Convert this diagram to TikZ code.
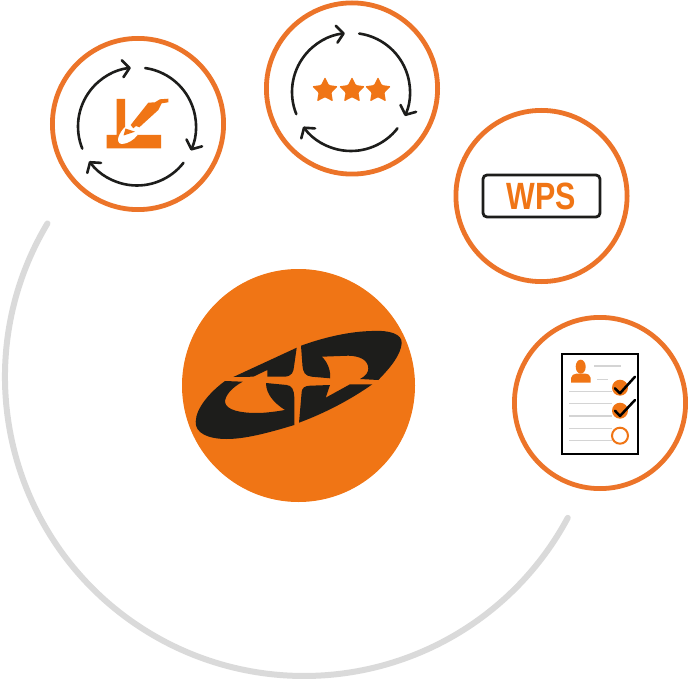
\documentclass[tikz,border=0pt]{standalone}
\usepackage{fontspec}
\setmainfont{Liberation Sans}
\usetikzlibrary{arrows.meta,shapes.geometric}
\definecolor{ringorange}{HTML}{EC7429}
\definecolor{logoorange}{HTML}{F07515}
\definecolor{logoblack}{HTML}{1D1D1B}
\definecolor{sweepgrey}{HTML}{DADADA}
\definecolor{rulegrey}{HTML}{D4D4D4}
\tikzset{
  ring/.style = {draw=ringorange, line width=4.8pt, circle, fill=white, outer sep=0pt, inner sep=0pt, minimum size=171.2pt},
  cyc/.style = {draw=logoblack, line width=2.6pt, line cap=round, -{Straight Barb[length=7pt,width=17pt,round]}},
  iconfill/.style = {fill=logoorange},
  logopart/.style = {fill=logoblack},
  docline/.style = {draw=rulegrey, line width=1.5pt},
  tick/.style = {draw=black, line width=2.5pt, line cap=round, line join=round},
  cycle/.pic = {
    \foreach \a in {158,278,38}
      \draw[cyc] (\a:59) arc (\a:\a+106:59);
  }
}
\begin{document}
\begin{tikzpicture}[x=1pt, y=-1pt]
\useasboundingbox (0,0) rectangle (688,679);
% grey sweep
\coordinate (sweep) at (304,377);
\draw[sweepgrey, line width=6pt, line cap=round] ([shift={(210.9:299)}]sweep) arc (210.9:28.1:299);
% rings
\node[ring] (weld) at (138,124) {};
\node[ring] (rate) at (352,88.5) {};
\node[ring] (wps) at (541.5,196) {};
\node[ring] (doc) at (600,403) {};
\node[circle, fill=logoorange, inner sep=0pt, outer sep=0pt, minimum size=233pt] (hub) at (298.5,385.5) {};
% logo
\fill[logopart] (296.7,347.7) -- (233.3,377) -- (253.3,376.7) -- (267.3,370) -- (267.3,376.7) -- (285,376.7)
  .. controls (292,376) and (293.5,372) .. (294,366.7) -- cycle;
\fill[logopart] (225,381) -- (242.7,381.7) .. controls (231,388) and (225,396) .. (225,402)
  .. controls (226,410) and (240,413) .. (256.7,413) .. controls (266,413) and (276,411.5) .. (285,410)
  .. controls (274,403) and (266,394) .. (266,383) -- (286.7,385)
  .. controls (292,385.5) and (294,390) .. (294.3,397) -- (294.3,425)
  .. controls (268,433) and (245,439) .. (226.7,439) .. controls (208,439) and (195,433) .. (195.7,421.7)
  .. controls (196,408) and (210,392) .. (225,381) -- cycle;
\fill[logopart] (301,345.7) .. controls (325,337) and (350,331.5) .. (371.7,331)
  .. controls (390,330) and (402,334) .. (401.7,343) .. controls (401,355) and (390,368) .. (378.3,380)
  -- (360,379) .. controls (366,376) and (368.5,372) .. (368.3,368.3)
  .. controls (368,360) and (360,356) .. (348.3,355.7) -- (321.7,356.7)
  .. controls (328,362) and (331,372) .. (330,378.3) -- (311.7,376.7)
  .. controls (305,376) and (303,372) .. (302.5,366) -- cycle;
\fill[logopart] (299,422.7) -- (301.7,391.7) .. controls (302,388) and (305,385.7) .. (310,385.7)
  -- (330,385) -- (325.7,397.7) -- (350,384.3) -- (372.3,384.3)
  .. controls (350,400) and (325,413) .. (299,422.7) -- cycle;
% welding icon
\pic (weldcyc) at (137,126.5) {cycle};
\fill[iconfill] (106.7,135) -- (116.5,135) -- (116.5,99) -- (125,99) -- (125,135) -- (161,135) -- (161,148.5) -- (106.7,148.5) -- cycle;
\fill[white] (125,127) .. controls (130,129) and (135,132) .. (137.5,135)
  .. controls (134,140) and (127,144) .. (122,144) .. controls (118,144) and (117.5,140) .. (118.5,137) .. controls (120,133) and (122,130) .. (125,127) -- cycle;
\fill[iconfill] (125.5,128.5) -- (135,131.7) -- (123.5,135.5) -- cycle;
\fill[iconfill] (130.7,125) -- (135,119.5) -- (148.3,102.7) -- (155,102.3) -- (160,99.3) -- (168.3,98.7) -- (168.3,102.3)
  -- (161.7,103.3) -- (158.3,110) -- (139.3,127.3) -- (136,126) -- (133.3,128.3) -- cycle;
% stars icon
\pic (ratecyc) at (351,92) {cycle};
\foreach \sx [count=\i] in {325,352,378}
  \node[star, star points=5, star point ratio=2, fill=logoorange, rounded corners=1pt, inner sep=0pt, outer sep=0pt, minimum size=27pt] (star\i) at (\sx,90.5) {};
% wps icon
\node[draw=logoblack, line width=2.8pt, rounded corners=4pt, inner sep=0pt, outer sep=0pt, minimum width=117pt, minimum height=42pt] (wpsbox) at (541.5,196) {};
\node[text=logoorange, font=\fontsize{38}{38}\selectfont\bfseries, xscale=0.8, inner sep=0pt] (wpstext) at (wpsbox.center) {WPS};
% checklist icon
\node[draw=black, line width=2pt, fill=white, outer sep=0pt, inner sep=0pt, minimum width=76pt, minimum height=100pt] (sheet) at (600,404) {};
\fill[iconfill] (580.7,366.7) ellipse (5pt and 7pt);
\fill[iconfill] (571,382.7) -- (571,378) .. controls (571,375) and (574,374) .. (577,373.5) -- (584.5,373.5) .. controls (588,374) and (590.7,375) .. (590.7,378) -- (590.7,382.7) -- cycle;
\draw[docline] (594,366) -- (620.7,366);
\draw[docline] (597.3,379.3) -- (608.3,379.3);
\foreach \ly in {391.7,403.3,416,428.3,440.7}
  \draw[docline] (569.3,\ly) -- (611.7,\ly);
\node[circle, fill=logoorange, minimum size=16pt, inner sep=0pt] (box1) at (620,387.7) {};
\node[circle, fill=logoorange, minimum size=16pt, inner sep=0pt] (box2) at (620,410.7) {};
\node[circle, draw=logoorange, fill=white, line width=2pt, minimum size=16pt, inner sep=0pt] (box3) at (620,435.7) {};
\draw[tick] (615,388.3) -- (620,393.3) -- (635,376.7);
\draw[tick] (615,410.7) -- (620,416) -- (635,400);
\end{tikzpicture}
\end{document}
